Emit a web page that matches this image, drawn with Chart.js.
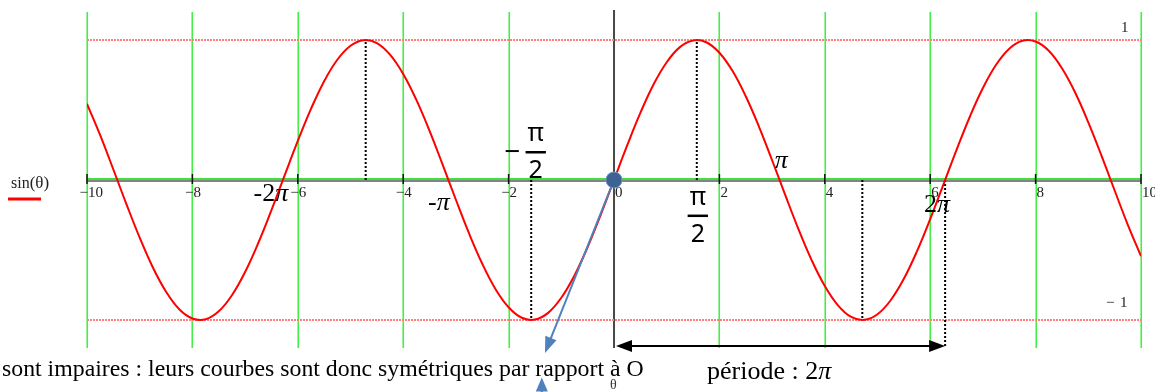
<!DOCTYPE html>
<html>
<head>
<meta charset="utf-8">
<script src="https://cdn.jsdelivr.net/npm/chart.js@4.4.1/dist/chart.umd.min.js"></script>
<style>
  html, body { margin: 0; padding: 0; background: #fff; }
  #wrap { width: 1155px; height: 392px; }
</style>
</head>
<body>
<div id="wrap"><canvas id="sinChart"></canvas></div>
<script>
// ---------- Data ----------
const thetaValues = [
  -10, -9.75, -9.5, -9.25, -9, -8.75, -8.5, -8.25, -8, -7.75, -7.5, -7.25, -7, -6.75, -6.5, -6.25,
  -6, -5.75, -5.5, -5.25, -5, -4.75, -4.5, -4.25, -4, -3.75, -3.5, -3.25, -3, -2.75, -2.5, -2.25,
  -2, -1.75, -1.5, -1.25, -1, -0.75, -0.5, -0.25, 0,
  0.25, 0.5, 0.75, 1, 1.25, 1.5, 1.75, 2, 2.25, 2.5, 2.75, 3, 3.25, 3.5, 3.75, 4,
  4.25, 4.5, 4.75, 5, 5.25, 5.5, 5.75, 6, 6.25, 6.5, 6.75, 7, 7.25, 7.5, 7.75, 8,
  8.25, 8.5, 8.75, 9, 9.25, 9.5, 9.75, 10
];
const sinValues = [
  0.544, 0.320, 0.075, -0.174, -0.412, -0.625, -0.798, -0.923, -0.989, -0.995, -0.938, -0.823, -0.657, -0.450, -0.215, 0.033,
  0.279, 0.508, 0.706, 0.859, 0.959, 0.999, 0.978, 0.895, 0.757, 0.572, 0.351, 0.108, -0.141, -0.382, -0.598, -0.778,
  -0.909, -0.984, -0.997, -0.949, -0.841, -0.682, -0.479, -0.247, 0,
  0.247, 0.479, 0.682, 0.841, 0.949, 0.997, 0.984, 0.909, 0.778, 0.598, 0.382, 0.141, -0.108, -0.351, -0.572, -0.757,
  -0.895, -0.978, -0.999, -0.959, -0.859, -0.706, -0.508, -0.279, -0.033, 0.215, 0.450, 0.657, 0.823, 0.938, 0.995, 0.989,
  0.923, 0.798, 0.625, 0.412, 0.174, -0.075, -0.320, -0.544
];

// x grid / tick positions and their labels
const gridTicks = [-10, -8, -6, -4, -2, 0, 2, 4, 6, 8, 10];
const tickLabels = ['10', '8', '6', '4', '2', '0', '2', '4', '6', '8', '10'];

// horizontal marker lines at the extremes
const levelValues = [1, -1];

// dotted drop lines: -3π/2, -π/2, π/2, 3π/2, 2π
const guideTheta = [-4.712, -1.571, 1.571, 4.712, 6.283];
const guideEnd = [1, -1, 1, -1, -1.2];

// period arrow spans 0 .. 2π
const periodStart = 0;
const periodEnd = 6.283;

// ---------- Helpers ----------
const SERIF = '"Liberation Serif", "Times New Roman", serif';
const SANS = '"Noto Sans", "DejaVu Sans", sans-serif';

function drawRun(ctx, parts, x, baseline, color) {
  ctx.fillStyle = color || '#000';
  ctx.textBaseline = 'alphabetic';
  ctx.textAlign = 'left';
  let cx = x;
  parts.forEach(([txt, font]) => {
    ctx.font = font;
    ctx.fillText(txt, cx, baseline);
    cx += ctx.measureText(txt).width;
  });
}

function drawFrac(ctx, cx, barY, num, den, size) {
  ctx.font = size + 'px ' + SANS;
  ctx.fillStyle = '#000';
  ctx.textAlign = 'center';
  ctx.textBaseline = 'alphabetic';
  const w = Math.max(ctx.measureText(num).width, ctx.measureText(den).width) + 4;
  ctx.fillText(num, cx, barY - 11);
  ctx.fillText(den, cx, barY + size * 0.72 + 8);
  ctx.fillRect(cx - w / 2, barY - 1, w, 2.5);
}

function arrowHead(ctx, x1, y1, x2, y2, len, half, color) {
  const a = Math.atan2(y2 - y1, x2 - x1);
  ctx.fillStyle = color;
  ctx.beginPath();
  ctx.moveTo(x2, y2);
  ctx.lineTo(x2 - len * Math.cos(a) + half * Math.sin(a), y2 - len * Math.sin(a) - half * Math.cos(a));
  ctx.lineTo(x2 - len * Math.cos(a) - half * Math.sin(a), y2 - len * Math.sin(a) + half * Math.cos(a));
  ctx.closePath();
  ctx.fill();
}

// ---------- Plot frame: grid, axes, ticks ----------
const framePlugin = {
  id: 'frame',
  beforeDatasetsDraw(chart) {
    const { ctx, chartArea: a, scales: { x, y } } = chart;
    const y0 = y.getPixelForValue(0);
    const x0 = x.getPixelForValue(0);
    ctx.save();
    // green vertical grid
    ctx.strokeStyle = '#44ee44';
    ctx.lineWidth = 1.6;
    gridTicks.forEach(t => {
      const px = Math.round(x.getPixelForValue(t)) + 0.25;
      ctx.beginPath();
      ctx.moveTo(px, a.top);
      ctx.lineTo(px, a.bottom);
      ctx.stroke();
    });
    // x axis: green line over a dark grey one
    ctx.strokeStyle = '#5a5a5a';
    ctx.lineWidth = 1.5;
    ctx.beginPath();
    ctx.moveTo(a.left, y0 + 1);
    ctx.lineTo(a.right, y0 + 1);
    ctx.stroke();
    ctx.strokeStyle = '#3fe03f';
    ctx.lineWidth = 2;
    ctx.beginPath();
    ctx.moveTo(a.left, y0 - 1);
    ctx.lineTo(a.right, y0 - 1);
    ctx.stroke();
    // y axis
    ctx.strokeStyle = '#4a4a4a';
    ctx.lineWidth = 2;
    ctx.beginPath();
    ctx.moveTo(x0, a.top - 2);
    ctx.lineTo(x0, a.bottom);
    ctx.stroke();
    // tick marks
    ctx.strokeStyle = '#111';
    ctx.lineWidth = 1.5;
    gridTicks.forEach(t => {
      const px = x.getPixelForValue(t);
      ctx.beginPath();
      ctx.moveTo(px, y0 - 6);
      ctx.lineTo(px, y0 + 4);
      ctx.stroke();
    });
    // tick labels: digits right of the tick, minus sign hanging to the left
    ctx.font = '15px ' + SERIF;
    ctx.fillStyle = '#222';
    ctx.textBaseline = 'alphabetic';
    gridTicks.forEach((t, i) => {
      const px = x.getPixelForValue(t);
      ctx.textAlign = 'left';
      ctx.fillText(tickLabels[i], px + 1, y0 + 17);
      if (t < 0) {
        ctx.textAlign = 'right';
        ctx.fillText('\u2212', px + 1, y0 + 17);
      }
    });
    // y extreme labels at the right
    ctx.textAlign = 'left';
    ctx.font = '15px ' + SERIF;
    ctx.fillText('1', 1121, y.getPixelForValue(1) - 8);
    ctx.fillText('\u2212', 1106, y.getPixelForValue(-1) - 13);
    ctx.fillText('1', 1120, y.getPixelForValue(-1) - 13);
    ctx.restore();
  }
};

// ---------- Annotations: labels, arrows, legend ----------
const notesPlugin = {
  id: 'notes',
  afterDatasetsDraw(chart) {
    const { ctx, scales: { x, y } } = chart;
    const px = v => x.getPixelForValue(v);
    const py = v => y.getPixelForValue(v);
    ctx.save();

    // multiples of π along the axis
    const big = '26px ' + SERIF, bigI = 'italic 26px ' + SERIF;
    drawRun(ctx, [['-2', big], ['\u03c0', bigI]], px(-6.84), py(-0.15));
    drawRun(ctx, [['-', big], ['\u03c0', bigI]], px(-3.53), py(-0.214));
    drawRun(ctx, [['\u03c0', bigI]], px(3.05), py(0.086));
    drawRun(ctx, [['2', big], ['\u03c0', bigI]], px(5.88), py(-0.229));

    // ±π/2 fractions
    drawFrac(ctx, px(-1.485), py(0.2), '\u03c0', '2', 25);
    ctx.font = '28px ' + SANS;
    ctx.textAlign = 'center';
    ctx.fillText('\u2212', px(-1.925), py(0.2) + 9);
    drawFrac(ctx, px(1.59), py(-0.254), '\u03c0', '2', 25);

    // period arrow 0 .. 2π
    const ay = py(-1.186);
    const ax1 = px(periodStart) + 2, ax2 = px(periodEnd);
    ctx.strokeStyle = '#000';
    ctx.lineWidth = 2;
    ctx.beginPath();
    ctx.moveTo(ax1 + 10, ay);
    ctx.lineTo(ax2 - 10, ay);
    ctx.stroke();
    arrowHead(ctx, ax2, ay, ax1, ay, 16, 6, '#000');
    arrowHead(ctx, ax1, ay, ax2, ay, 16, 6, '#000');

    // blue pointer from the origin
    const ox = px(0), oy = py(0);
    const bx = px(-1.31), by = py(-1.235);
    ctx.strokeStyle = '#4f81bd';
    ctx.lineWidth = 2;
    ctx.beginPath();
    ctx.moveTo(ox, oy);
    ctx.lineTo(bx + (ox - bx) * 0.08, by + (oy - by) * 0.08);
    ctx.stroke();
    arrowHead(ctx, ox, oy, bx, by, 16, 6, '#4f81bd');
    // second blue pointer rising from the bottom edge
    const ux = px(-1.37);
    ctx.beginPath();
    ctx.moveTo(ux, 392);
    ctx.lineTo(ux, py(-1.42) + 8);
    ctx.stroke();
    arrowHead(ctx, ux, 392, ux, py(-1.41), 14, 6, '#4f81bd');

    // point O
    ctx.fillStyle = '#3d6294';
    ctx.strokeStyle = '#6f93c4';
    ctx.lineWidth = 1;
    ctx.beginPath();
    ctx.arc(ox, oy, 8, 0, Math.PI * 2);
    ctx.fill();
    ctx.stroke();

    // legend
    drawRun(ctx, [['sin', '16px ' + SERIF], ['(\u03b8)', '17px ' + SERIF]], 11, 188, '#222');
    ctx.strokeStyle = '#ff0000';
    ctx.lineWidth = 3;
    ctx.beginPath();
    ctx.moveTo(8, 199);
    ctx.lineTo(41, 199);
    ctx.stroke();

    // caption lines at the bottom
    drawRun(ctx, [['sont impaires : leurs courbes sont donc sym\u00e9triques par rapport \u00e0 O', '23.8px ' + SERIF]], 2, 376);
    drawRun(ctx, [['\u03b8', '14px ' + SERIF]], 610, 389, '#333');
    drawRun(ctx, [['p\u00e9riode : 2', '26px ' + SERIF], ['\u03c0', 'italic 26px ' + SERIF]], 707, 379);

    ctx.restore();
  }
};

// ---------- Chart ----------
const curvePoints = thetaValues.map((t, i) => ({ x: t, y: sinValues[i] }));

const guideSets = guideTheta.map((g, i) => ({
  label: 'guide' + i,
  data: [{ x: g, y: 0 }, { x: g, y: guideEnd[i] }],
  showLine: true,
  borderColor: '#000',
  borderWidth: 2,
  borderDash: [2, 2],
  pointRadius: 0,
  clip: false
}));

const levelSets = levelValues.map(v => ({
  label: 'level' + v,
  data: [{ x: -10, y: v }, { x: 10, y: v }],
  showLine: true,
  borderColor: '#ff7f7f',
  borderWidth: 2,
  borderDash: [2, 1],
  pointRadius: 0
}));

new Chart(document.getElementById('sinChart'), {
  type: 'scatter',
  data: {
    datasets: [
      {
        label: 'sin(\u03b8)',
        data: curvePoints,
        showLine: true,
        borderColor: '#ff0000',
        borderWidth: 2,
        pointRadius: 0,
        tension: 0.4
      },
      ...guideSets,
      ...levelSets
    ]
  },
  options: {
    responsive: true,
    maintainAspectRatio: false,
    animation: false,
    layout: { padding: { left: 87, right: 14, top: 12, bottom: 44 } },
    scales: {
      x: { type: 'linear', min: -10, max: 10, display: false },
      y: { type: 'linear', min: -1.2, max: 1.2, display: false }
    },
    plugins: {
      legend: { display: false },
      tooltip: { enabled: false }
    }
  },
  plugins: [framePlugin, notesPlugin]
});
</script>
</body>
</html>
